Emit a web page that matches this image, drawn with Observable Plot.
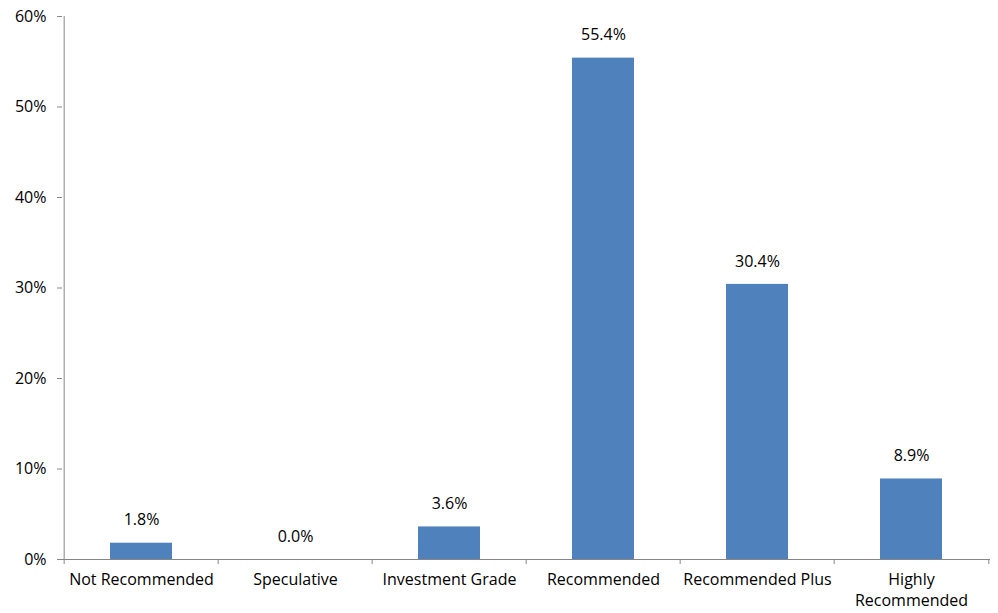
<!DOCTYPE html>
<html><head><meta charset="utf-8">
<script src="https://cdn.jsdelivr.net/npm/d3@7"></script>
<script src="https://cdn.jsdelivr.net/npm/@observablehq/plot@0.6"></script>
<style>body{margin:0;background:#fff;} svg{font-family:"Open Sans",sans-serif;}</style>
</head><body><div id="chart"></div>
<script>
const categories = ["Not Recommended","Speculative","Investment Grade","Recommended","Recommended Plus","Highly Recommended"];
const tickLabels = ["Not Recommended","Speculative","Investment Grade","Recommended","Recommended Plus","Highly\nRecommended"];
const values = [0.018, 0.0, 0.036, 0.554, 0.304, 0.089];
const yTicks = [0, 0.1, 0.2, 0.3, 0.4, 0.5, 0.6];

const data = categories.map((c, i) => ({category: c, value: values[i], label: tickLabels[i]}));
const W = 998, H = 613, mL = 62, mR = 8, mT = 16, mB = 54;
const bw = (W - mL - mR) / categories.length;
const axisColor = "#868686";
const fs = 16;

const chart = Plot.plot({
  width: W, height: H,
  marginLeft: mL, marginRight: mR, marginTop: mT, marginBottom: mB,
  style: {fontSize: fs + "px", fontFamily: "'Open Sans', sans-serif", color: "#000", background: "#fff"},
  x: {domain: categories, paddingInner: 0.6, paddingOuter: 0.3, align: 0.5},
  y: {domain: [0, 0.6]},
  marks: [
    Plot.barY(data, {x: "category", y: "value", fill: "#4F81BD"}),
    Plot.text(data, {x: "category", y: "value", text: d => (d.value * 100).toFixed(1) + "%", dy: -23, fontSize: fs, fill: "#000"}),
    Plot.axisY({ticks: yTicks, tickFormat: d => Math.round(d * 100) + "%", tickSize: 5, tickPadding: 11, stroke: axisColor, fill: "#000", label: null, fontSize: fs}),
    Plot.ruleX([0], {x: () => categories[0], dx: -bw / 2, stroke: axisColor}),
    Plot.axisX({tickSize: 0, tickPadding: 11, tickFormat: (d) => tickLabels[categories.indexOf(d)], label: null, fill: "#000", fontSize: fs, lineHeight: 1.3}),
    Plot.ruleY([0], {stroke: axisColor, strokeWidth: 1.2}),
    Plot.ruleX(categories, {x: d => d, y1: 0, y2: 0, dx: -bw / 2, insetBottom: -5, stroke: axisColor}),
    Plot.ruleX([categories[categories.length - 1]], {x: d => d, y1: 0, y2: 0, dx: bw / 2, insetBottom: -5, stroke: axisColor})
  ]
});
document.getElementById("chart").appendChild(chart);
</script></body></html>
